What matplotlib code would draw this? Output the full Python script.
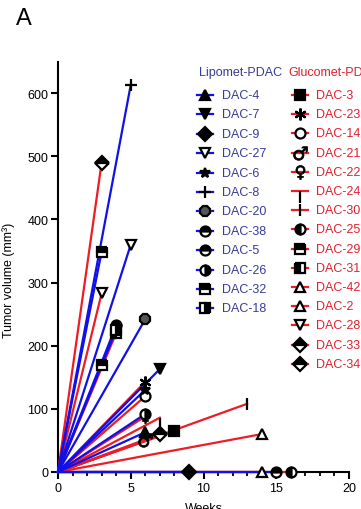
import matplotlib
matplotlib.use('Agg')
import matplotlib.pyplot as plt
from matplotlib.lines import Line2D

plt.rcParams['font.family'] = ['Liberation Sans', 'DejaVu Sans']

# Lipomet-PDAC (blue): name, end week, end volume
lipo_names = ['DAC-4', 'DAC-7', 'DAC-9', 'DAC-27', 'DAC-6', 'DAC-8',
              'DAC-20', 'DAC-38', 'DAC-5', 'DAC-26', 'DAC-32', 'DAC-18']
lipo_weeks = [6, 7, 9, 5, 6, 5, 6, 4, 15, 6, 3, 4]
lipo_vol = [63, 163, 0, 360, 130, 613, 242, 232, 0, 92, 349, 225]

# Glucomet-PDAC (red)
gluco_names = ['DAC-3', 'DAC-23', 'DAC-14', 'DAC-21', 'DAC-22', 'DAC-24',
               'DAC-30', 'DAC-25', 'DAC-29', 'DAC-31', 'DAC-42', 'DAC-2',
               'DAC-28', 'DAC-33', 'DAC-34']
gluco_weeks = [8, 6, 6, 6, 6, 7, 13, 16, 3, 4, 14, 14, 3, 7, 3]
gluco_vol = [65, 143, 120, 50, 88, 86, 108, 0, 170, 220, 60, 0, 283, 60, 490]

# marker styles: (marker, fillstyle, facecolor)
lipo_marks = [('^', 'full', 'k'), ('v', 'full', 'k'), ('D', 'full', 'k'),
              ('v', 'full', 'w'), ('*', 'full', 'k'), ('+', 'full', 'k'),
              ('8', 'full', '#555555'), ('o', 'top', 'k'), ('o', 'top', 'k'),
              ('o', 'right', 'k'), ('s', 'top', 'k'), ('s', 'right', 'k')]
gluco_marks = [('s', 'full', 'k'), ((6, 2, 0), 'full', 'k'), ('o', 'full', 'w'),
               ('$\u2642$', 'full', 'k'), ('$\u2640$', 'full', 'k'), (3, 'full', 'k'),
               ('|', 'full', 'k'), ('o', 'left', 'k'), ('s', 'top', 'k'),
               ('s', 'left', 'k'), ('^', 'full', 'w'), ('^', 'full', 'w'),
               ('v', 'full', 'w'), ('D', 'top', 'k'), ('D', 'top', 'k')]

BLUE = '#1010e8'
RED = '#ee1c24'
BLUE_TXT = '#373c96'
RED_TXT = '#e0202e'

fig = plt.figure(figsize=(3.61, 5.10), dpi=100)
ax = fig.add_axes([58 / 361, 37 / 510, 291 / 361, 410.5 / 510])


def mstyle(m):
    mk, fs, fc = m
    kw = dict(marker=mk, markersize=7.2, markeredgecolor='k', markeredgewidth=1.6,
              fillstyle=fs, markerfacecolor=fc, markerfacecoloralt='w')
    if isinstance(mk, str) and mk.startswith('$'):
        kw['markersize'] = 10
        kw['markeredgewidth'] = 0.6
    if mk in ('+', '|', 3, (6, 2, 0)):
        kw['markersize'] = 8.5
    return kw


for w, v, m in zip(gluco_weeks, gluco_vol, gluco_marks):
    ax.plot([0, w], [0, v], color=RED, lw=1.6, clip_on=False, zorder=3)
    ax.plot([w], [v], linestyle='none', clip_on=False, zorder=5, **mstyle(m))
for w, v, m in zip(lipo_weeks, lipo_vol, lipo_marks):
    ax.plot([0, w], [0, v], color=BLUE, lw=1.6, clip_on=False, zorder=4)
    ax.plot([w], [v], linestyle='none', clip_on=False, zorder=5, **mstyle(m))

ax.set_xlim(0, 20)
ax.set_ylim(0, 650)
ax.set_xticks([0, 5, 10, 15, 20])
ax.set_xticks(range(0, 21), minor=True)
ax.set_yticks(range(0, 700, 100))
for s in ['top', 'right']:
    ax.spines[s].set_visible(False)
for s in ['left', 'bottom']:
    ax.spines[s].set_linewidth(1.5)
ax.tick_params(axis='both', which='major', length=5, width=1.5, labelsize=9, pad=2)
ax.tick_params(axis='x', which='minor', length=3, width=1.3)
ax.set_xlabel('Weeks', fontsize=9, labelpad=6)
ax.set_ylabel('Tumor volume (mm³)', fontsize=9, labelpad=6)
ax.yaxis.set_label_coords(-0.148, 0.47)

fig.text(16 / 361, 1 - 19 / 510, 'A', fontsize=17, va='center', ha='left')


def legend_col(title, names, marks, color, tcolor, x_title, x_mark, x_text, y0, dy):
    fig.text(x_title / 361, 1 - 73 / 510, title, color=tcolor, fontsize=9,
             va='center', ha='left')
    for i, (n, m) in enumerate(zip(names, marks)):
        y = 1 - (y0 + i * dy) / 510
        fig.add_artist(Line2D([(x_mark - 8) / 361, (x_mark + 8) / 361], [y, y],
                              color=color, lw=1.6, transform=fig.transFigure))
        fig.add_artist(Line2D([x_mark / 361], [y], linestyle='none',
                              transform=fig.transFigure, **mstyle(m)))
        fig.text(x_text / 361, y, n, color=tcolor, fontsize=9, va='center', ha='left')


legend_col('Lipomet-PDAC', lipo_names, lipo_marks, BLUE, BLUE_TXT, 199, 205, 222, 96, 19.4)
legend_col('Glucomet-PDAC', gluco_names, gluco_marks, RED, RED_TXT, 288, 300, 316, 96, 19.2)

fig.savefig('out.png', dpi=100)
